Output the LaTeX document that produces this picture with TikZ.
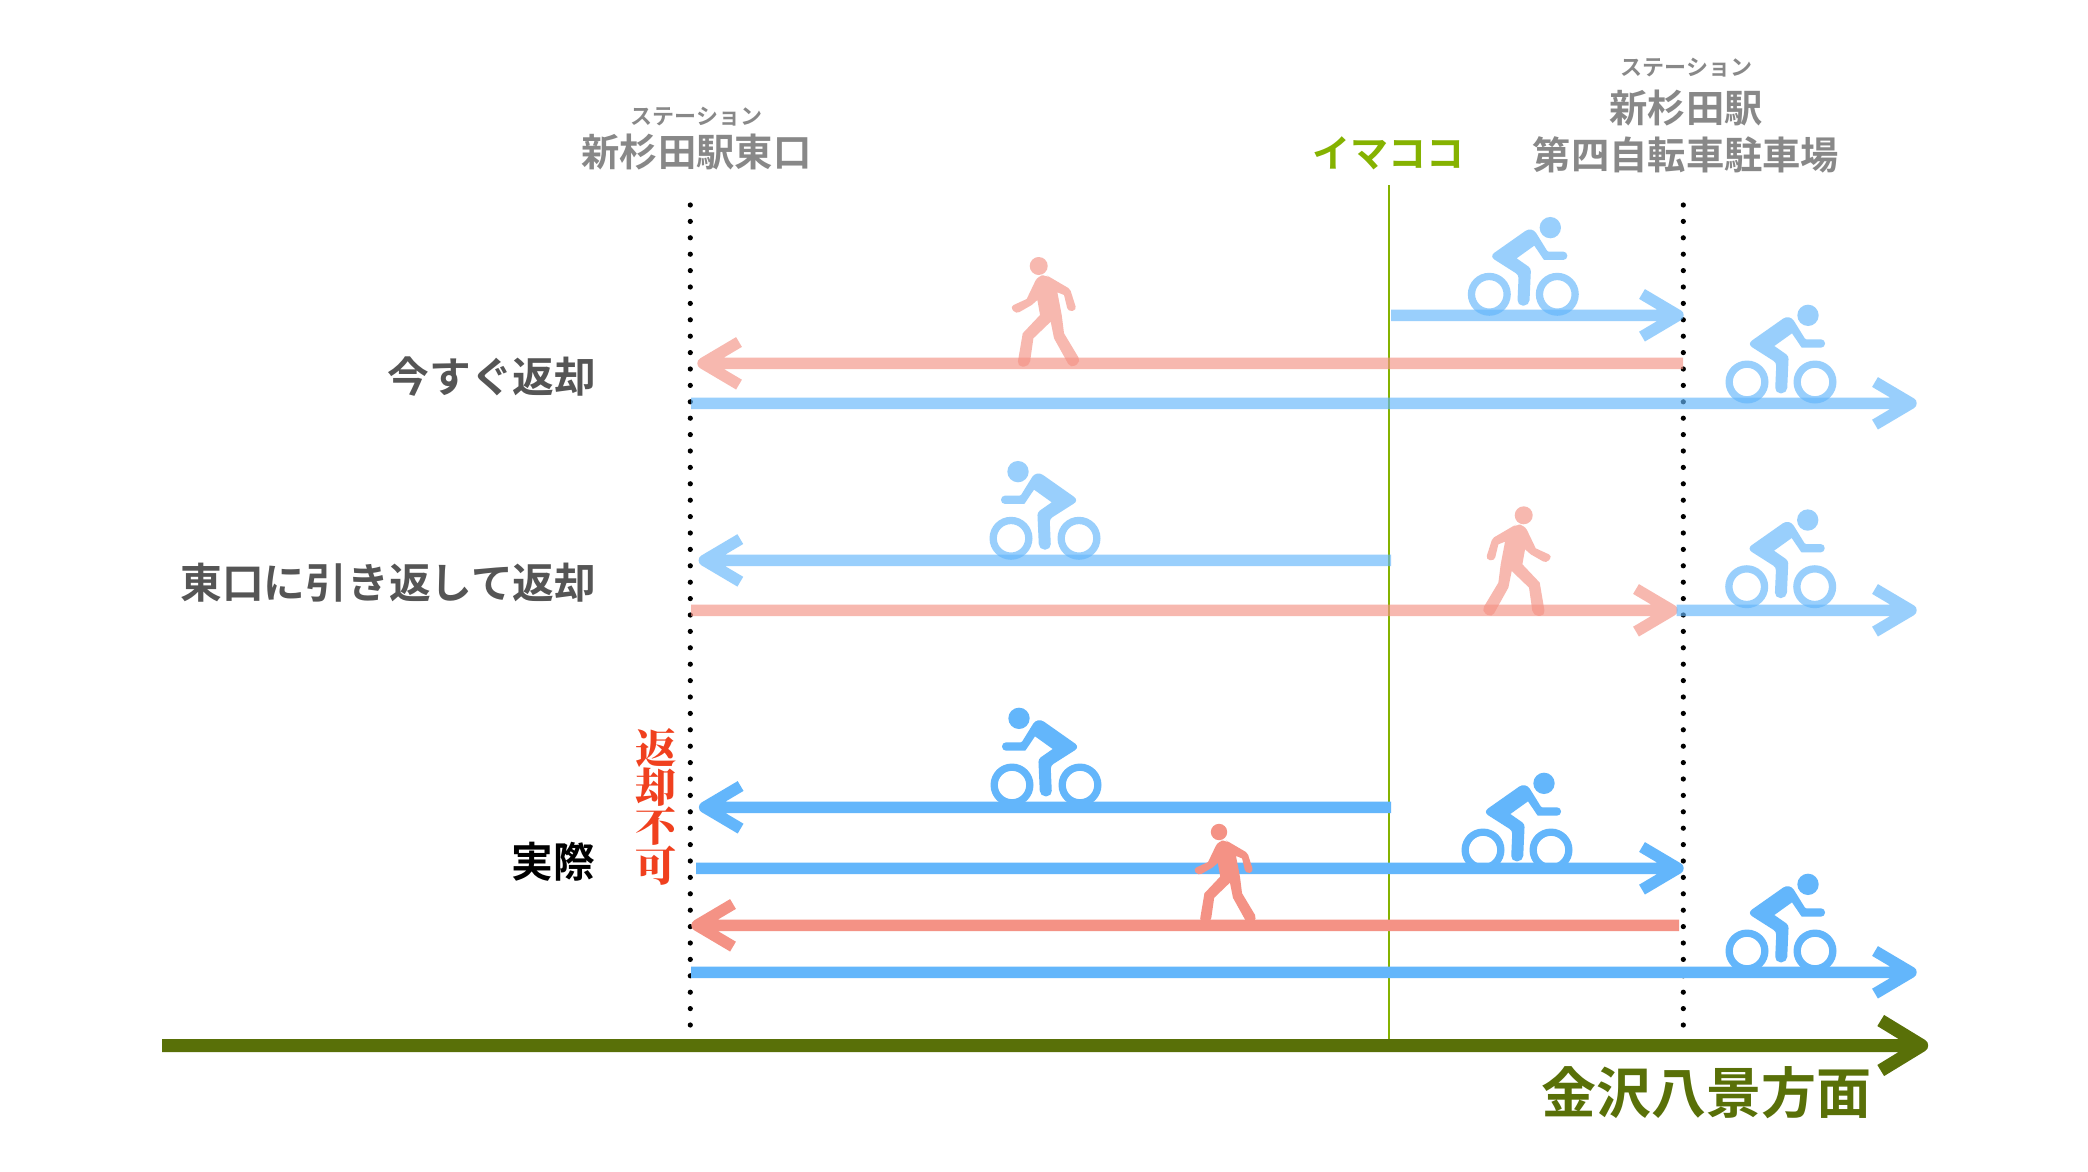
\documentclass[tikz,border=0pt]{standalone}
\usepackage{fontspec}
\setmainfont{Noto Sans CJK JP}[BoldFont={Noto Sans CJK JP Bold}]
\newfontfamily\serifjp{Noto Serif CJK JP Black}
\definecolor{bluebase}{HTML}{63B6FB}
\definecolor{redbase}{HTML}{F49285}
\definecolor{olivebase}{HTML}{597008}
\definecolor{greenbase}{HTML}{85B200}
\definecolor{graytext}{HTML}{888888}
\definecolor{darktext}{HTML}{555555}
\definecolor{alertred}{HTML}{F0401E}
\newcommand{\ArrowRight}[3]{\draw[#1] (#2) -- (#3) (#3) ++(-36,-21.3) -- (#3) -- ++(-36,21.3);}
\newcommand{\ArrowLeft}[3]{\draw[#1] (#2) -- (#3) (#3) ++(36,-21.3) -- (#3) -- ++(36,21.3);}
\tikzset{
  x=1pt,y=-1pt,
  lane/.style={line width=11.4pt,line join=round,line cap=butt},
  bluesolid/.style={lane,draw=bluebase},
  bluelight/.style={lane,draw=bluebase,opacity=.65},
  redsolid/.style={lane,draw=redbase},
  redlight/.style={lane,draw=redbase,opacity=.65},
  iconbs/.style={fill=bluebase,draw=bluebase},
  iconbl/.style={fill=bluebase,draw=bluebase,opacity=.65},
  iconrs/.style={fill=redbase,draw=redbase},
  iconrl/.style={fill=redbase,draw=redbase,opacity=.65},
  boundary/.style={draw=black,line width=5.2pt,line cap=round,dash pattern=on 0pt off 16.4pt},
  lab/.style={inner sep=0pt,font=\fontsize{41.7}{42}\selectfont\bfseries},
  stationlab/.style={inner sep=0pt,text=graytext,font=\fontsize{38.3}{38.3}\selectfont\bfseries},
  rubylab/.style={inner sep=0pt,text=graytext,font=\fontsize{22}{22}\selectfont\bfseries},
  pics/cyclist/.style={code={
    \begin{scope}[scale=1/3]
      \fill[pic actions,draw=none]
        (64,-159) [rounded corners=8pt] -- (128,-204) [rounded corners=1pt] -- (175,-128)
        [rounded corners=4pt] -- (234,-128) -- (234,-103)
        [rounded corners=.5pt] -- (164,-103) [sharp corners] -- (135,-146) -- (82,-108)
        [rounded corners=3pt] -- (125,-78) [rounded corners=5.5pt] -- (120,34) -- (84,34)
        [rounded corners=3pt] -- (88,-58) [rounded corners=6pt] -- (0,-114) -- cycle;
      \fill[pic actions,draw=none] (183,-200) circle[radius=32];
      \draw[pic actions,fill=none,line width=7.3pt] (0,0) circle[radius=53.5];
      \draw[pic actions,fill=none,line width=7.3pt] (204,0) circle[radius=53.5];
    \end{scope}
  }},
  pics/walker/.style={code={
    \begin{scope}[scale=1/3]
      \fill[pic actions,draw=none] (0,0) circle[radius=27];
      \fill[pic actions,draw=none]
        (40,37.4) [rounded corners=2pt] -- (94,69) [rounded corners=3.8pt] -- (114,132) -- (88,137)
        [sharp corners] -- (76,87) -- (56,79) -- (69,147) -- (76,202)
        [rounded corners=5pt] -- (127,287) -- (96,307)
        [sharp corners] -- (46,217) -- (36,167) -- (-16,217)
        [rounded corners=5.5pt] -- (-28,302) -- (-65,302)
        [sharp corners] -- (-48,202) -- (4,147) -- (-4,102) -- (-21,117)
        [rounded corners=3.8pt] -- (-68,144) -- (-86,122)
        [sharp corners] -- (-36,99) [rounded corners=6pt] -- (-2,28) -- (24,28) -- cycle;
    \end{scope}
  }}
}
\begin{document}
\begin{tikzpicture}
\useasboundingbox[fill=white] (0,0) rectangle (2088,1172);

% named end points
\coordinate (dotLtop) at (690.3,205);
\coordinate (dotLbot) at (690.3,1027);
\coordinate (dotRtop) at (1683.3,205);
\coordinate (dotRbot) at (1683.3,1027);
\coordinate (nowTop) at (1389,185);
\coordinate (nowBot) at (1389,1040);
\coordinate (axisS) at (162,1045.5);
\coordinate (axisE) at (1921.7,1045.5);

\coordinate (a1s) at (1391,315.3);  \coordinate (a1e) at (1678,315.3);
\coordinate (a2s) at (1683,363.3);  \coordinate (a2e) at (703,363.3);
\coordinate (a3s) at (691,403.3);   \coordinate (a3e) at (1911,403.3);
\coordinate (b1s) at (1391,560.4);  \coordinate (b1e) at (704.3,560.4);
\coordinate (b2s) at (691,610.3);   \coordinate (b2e) at (1672,610.3);
\coordinate (b3s) at (1676.7,610.3);\coordinate (b3e) at (1911,610.3);
\coordinate (c1s) at (1391,807.3);  \coordinate (c1e) at (704.6,807.3);
\coordinate (c2s) at (696,868.3);   \coordinate (c2e) at (1678,868.3);
\coordinate (c3s) at (1679,925.3);  \coordinate (c3e) at (697,925.3);
\coordinate (c4s) at (691,972.3);   \coordinate (c4e) at (1911,972.3);

% boundaries
\draw[boundary] (dotLtop) -- (dotLbot);
\draw[boundary] (dotRtop) -- (dotRbot);
\draw[draw=greenbase,line width=2.6pt] (nowTop) -- (nowBot);

% row 1
\ArrowRight{bluelight}{a1s}{a1e}
\ArrowLeft{redlight}{a2s}{a2e}
\ArrowRight{bluelight}{a3s}{a3e}
% row 2
\ArrowLeft{bluelight}{b1s}{b1e}
\ArrowRight{redlight}{b2s}{b2e}
\ArrowRight{bluelight}{b3s}{b3e}
% row 3
\ArrowLeft{bluesolid}{c1s}{c1e}
\ArrowRight{bluesolid}{c2s}{c2e}
\ArrowLeft{redsolid}{c3s}{c3e}
\ArrowRight{bluesolid}{c4s}{c4e}
% axis
\draw[draw=olivebase,line width=13pt,line join=round] (axisS) -- (axisE) (axisE) ++(-41,-25) -- (axisE) -- ++(-41,25);

% icons
\pic[iconbl] at (1489.3,294.3) {cyclist};
\pic[iconbl] at (1747,382) {cyclist};
\pic[iconbl,xscale=-1] at (1079,538.3) {cyclist};
\pic[iconbl] at (1746.7,586.7) {cyclist};
\pic[iconbs,xscale=-1] at (1080,785) {cyclist};
\pic[iconbs] at (1483,850) {cyclist};
\pic[iconbs] at (1747,951) {cyclist};
\pic[iconrl] at (1038.7,266) {walker};
\pic[iconrl,xscale=-1] at (1523.7,515.3) {walker};
\pic[iconrs,scale=.91] at (1219,832) {walker};

% labels
\node[rubylab] (ruby1) at (696.5,117) {ステーション};
\node[stationlab] (st1) at (696.5,152) {新杉田駅東口};
\node[rubylab] (ruby2) at (1686.5,67.5) {ステーション};
\node[stationlab] (st2a) at (1686,108) {新杉田駅};
\node[stationlab] (st2b) at (1686,154.5) {第四自転車駐車場};
\node[inner sep=0pt,text=greenbase,font=\fontsize{38}{38}\selectfont\bfseries] (now) at (1388,153) {イマココ};
\node[lab,text=darktext,anchor=east] (l1) at (596.5,377) {今すぐ返却};
\node[lab,text=darktext,anchor=east] (l2) at (596.5,582.5) {東口に引き返して返却};
\node[lab,text=black,anchor=east] (l3) at (595.5,861.5) {実際};
\node[inner sep=0pt,text=alertred,align=center,font=\fontsize{41}{39}\selectfont\serifjp] (ng) at (656,807) {返\\却\\不\\可};
\node[inner sep=0pt,text=olivebase,font=\fontsize{55}{55}\selectfont\bfseries] (dir) at (1706,1093) {金沢八景方面};
\end{tikzpicture}
\end{document}
